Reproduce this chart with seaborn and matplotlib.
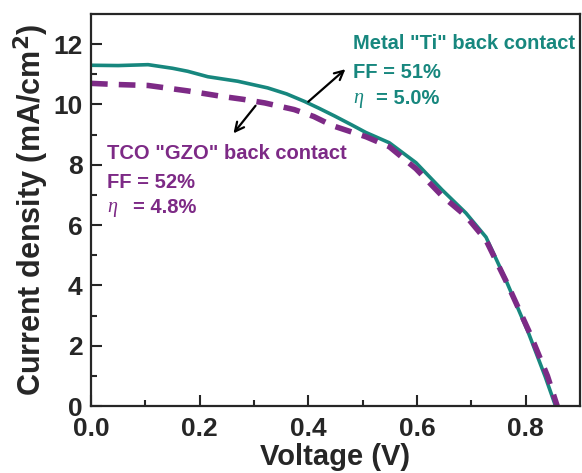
import numpy as np
import pandas as pd
import matplotlib
matplotlib.use("Agg")
import matplotlib.pyplot as plt
import seaborn as sns

# J-V data
v_ti = [0.00, 0.05, 0.105, 0.15, 0.178, 0.215, 0.27, 0.325, 0.36, 0.393, 0.42, 0.448,
        0.48, 0.506, 0.549, 0.598, 0.646, 0.69, 0.727, 0.763, 0.805, 0.836, 0.855]
j_ti = [11.30, 11.29, 11.32, 11.20, 11.10, 10.92, 10.77, 10.55, 10.35, 10.10, 9.87, 9.62,
        9.32, 9.07, 8.73, 8.07, 7.17, 6.40, 5.60, 4.20, 2.43, 0.97, 0.00]

v_gzo = [0.00, 0.05, 0.105, 0.178, 0.24, 0.28, 0.32, 0.374, 0.41, 0.444, 0.506, 0.549,
         0.598, 0.646, 0.69, 0.727, 0.765, 0.808, 0.84, 0.858]
j_gzo = [10.70, 10.66, 10.63, 10.45, 10.27, 10.17, 10.05, 9.83, 9.60, 9.30, 8.93, 8.60,
         7.87, 6.97, 6.30, 5.50, 4.10, 2.40, 1.00, 0.00]

teal = "#17877e"
purple = "#7d2a86"

df_ti = pd.DataFrame({"V": v_ti, "J": j_ti})
df_gzo = pd.DataFrame({"V": v_gzo, "J": j_gzo})

sns.set_style("ticks")
plt.rcParams["font.family"] = ["Liberation Sans", "DejaVu Sans"]
plt.rcParams["font.weight"] = "bold"
plt.rcParams["mathtext.default"] = "bf"

fig = plt.figure(figsize=(5.82, 4.73), dpi=100)
ax = fig.add_axes([0.1564, 0.1416, 0.8402, 0.8288])

sns.lineplot(data=df_ti, x="V", y="J", ax=ax, color=teal, lw=2.6, sort=False)
sns.lineplot(data=df_gzo, x="V", y="J", ax=ax, color=purple, lw=4, sort=False,
             linestyle=(0, (3, 2)))

ax.set_xlim(0, 0.9)
ax.set_ylim(0, 13)
ax.set_xticks([0.0, 0.2, 0.4, 0.6, 0.8])
ax.set_xticks(np.arange(0.1, 0.9, 0.2), minor=True)
ax.set_yticks([0, 2, 4, 6, 8, 10, 12])
ax.set_yticks([1, 3, 5, 7, 9, 11], minor=True)
ax.set_xticklabels(["0.0", "0.2", "0.4", "0.6", "0.8"])
ax.tick_params(which="both", direction="in", width=1.5, labelsize=19)
ax.tick_params(axis="x", pad=8)
ax.tick_params(axis="y", pad=6)
ax.tick_params(which="major", length=8)
ax.tick_params(which="minor", length=4)
for s in ax.spines.values():
    s.set_linewidth(1.6)
    s.set_visible(True)

ax.set_xlabel("Voltage (V)", fontsize=21, fontweight="bold", labelpad=1)
ax.set_ylabel("Current density (mA/cm$^2$)", fontsize=22, fontweight="bold", labelpad=2)

# annotations
tfs = 14.5
ax.text(0.483, 12.02, 'Metal "Ti" back contact', color=teal, fontsize=tfs, va="center")
ax.text(0.483, 11.06, "FF = 51%", color=teal, fontsize=tfs, va="center")
ax.text(0.483, 10.2, "\u03b7", color=teal, fontsize=tfs, va="center",
        family=["Liberation Serif", "DejaVu Serif"], style="italic", weight="normal")
ax.text(0.525, 10.2, "= 5.0%", color=teal, fontsize=tfs, va="center")

ax.text(0.029, 8.38, 'TCO "GZO" back contact', color=purple, fontsize=tfs, va="center")
ax.text(0.029, 7.42, "FF = 52%", color=purple, fontsize=tfs, va="center")
ax.text(0.029, 6.59, "\u03b7", color=purple, fontsize=tfs, va="center",
        family=["Liberation Serif", "DejaVu Serif"], style="italic", weight="normal")
ax.text(0.077, 6.59, "= 4.8%", color=purple, fontsize=tfs, va="center")

ax.annotate("", xy=(0.472, 11.23), xytext=(0.396, 10.03),
            arrowprops=dict(arrowstyle="->", color="black", lw=1.6, mutation_scale=16))
ax.annotate("", xy=(0.259, 8.97), xytext=(0.306, 10.03),
            arrowprops=dict(arrowstyle="->", color="black", lw=1.6, mutation_scale=16))

fig.savefig("out.png", dpi=100)
